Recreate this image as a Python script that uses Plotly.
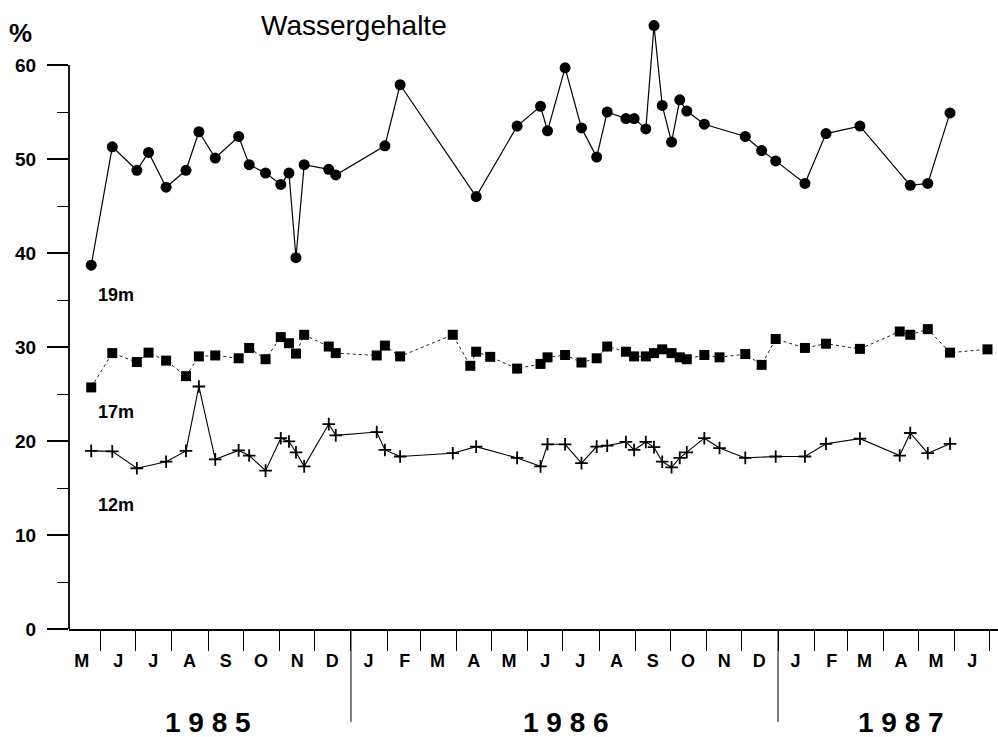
import pandas as pd
import plotly.graph_objects as go

# ---- data ----
dates = ["1985-05-24", "1985-06-11", "1985-07-02", "1985-07-12", "1985-07-27", "1985-08-13",
         "1985-08-24", "1985-09-07", "1985-09-27", "1985-10-06", "1985-10-20", "1985-11-02",
         "1985-11-09", "1985-11-15", "1985-11-22", "1985-12-13", "1985-12-19", "1986-01-23",
         "1986-01-30", "1986-02-12", "1986-03-29", "1986-04-13", "1986-04-18", "1986-04-30",
         "1986-05-23", "1986-06-12", "1986-06-18", "1986-07-03", "1986-07-17", "1986-07-30",
         "1986-08-08", "1986-08-24", "1986-08-31", "1986-09-10", "1986-09-17", "1986-09-24",
         "1986-10-02", "1986-10-09", "1986-10-15", "1986-10-30", "1986-11-12", "1986-12-04",
         "1986-12-18", "1986-12-30", "1987-01-24", "1987-02-11", "1987-03-12", "1987-04-15",
         "1987-04-24", "1987-05-09", "1987-05-28", "1987-06-29"]

wasser_19m = [38.7, 51.3, 48.8, 50.7, 47.0, 48.8, 52.9, 50.1, 52.4, 49.4,
              48.5, 47.3, 48.5, 39.5, 49.4, 48.9, 48.3, None, 51.4, 57.9,
              None, None, 46.0, None, 53.5, 55.6, 53.0, 59.7, 53.3, 50.2,
              55.0, 54.3, 54.3, 53.2, 64.2, 55.7, 51.8, 56.3, 55.1, 53.7,
              None, 52.4, 50.9, 49.8, 47.4, 52.7, 53.5, None, 47.2, 47.4,
              54.9, None]

wasser_17m = [25.7, 29.35, 28.4, 29.4, 28.55, 26.9, 29.0, 29.1, 28.8, 29.9,
              28.7, 31.05, 30.4, 29.3, 31.3, 30.05, 29.35, 29.1, 30.15, 29.0,
              31.3, 28.0, 29.5, 28.95, 27.7, 28.2, 28.9, 29.15, 28.35, 28.8,
              30.05, 29.5, 29.0, 29.0, 29.35, 29.75, 29.35, 28.9, 28.7, 29.15,
              28.9, 29.25, 28.1, 30.85, 29.9, 30.35, 29.8, 31.65, 31.3, 31.9,
              29.4, 29.75]

wasser_12m = [18.95, 18.9, 17.1, None, 17.8, 18.95, 25.8, 18.05, 19.0, 18.45,
              16.85, 20.3, 19.95, 18.8, 17.3, 21.8, 20.6, 20.95, 19.05, 18.35,
              18.7, None, 19.4, None, 18.2, 17.3, 19.65, 19.65, 17.65, 19.4,
              19.5, 19.9, 19.05, 19.9, 19.35, 17.8, 17.2, 18.2, 18.8, 20.3,
              19.25, 18.2, None, 18.35, 18.35, 19.7, 20.25, 18.45, 20.85, 18.7,
              19.7, None]

month_letters = ["M", "J", "J", "A", "S", "O", "N", "D",
                 "J", "F", "M", "A", "M", "J", "J", "A", "S", "O", "N", "D",
                 "J", "F", "M", "A", "M", "J"]
years = ["1985", "1986", "1987"]
y_ticks = [0, 10, 20, 30, 40, 50, 60]
series_names = ["19m", "17m", "12m"]

# ---- derived axis helpers ----
month_starts = pd.date_range("1985-05-01", periods=len(month_letters), freq="MS")
month_mids = [d + pd.Timedelta(days=15) for d in month_starts]
month_bounds = pd.date_range("1985-06-01", "1987-07-01", freq="MS")
year_bounds = ["1986-01-01", "1987-01-01"]

FONT = "Liberation Sans, Arial, Helvetica, sans-serif"

fig = go.Figure()

fig.add_trace(go.Scatter(
    x=dates, y=wasser_19m, mode="lines+markers", connectgaps=True,
    line=dict(color="black", width=1.2),
    marker=dict(symbol="circle", size=11, color="black"),
    name=series_names[0], showlegend=False))
fig.add_trace(go.Scatter(
    x=dates, y=wasser_17m, mode="lines+markers", connectgaps=True,
    line=dict(color="#222222", width=1, dash="dot"),
    marker=dict(symbol="square", size=10, color="black"),
    name=series_names[1], showlegend=False))
fig.add_trace(go.Scatter(
    x=dates, y=wasser_12m, mode="lines+markers", connectgaps=True,
    line=dict(color="black", width=1.1),
    marker=dict(symbol="cross-thin", size=9, line=dict(color="black", width=1.8)),
    name=series_names[2], showlegend=False))

fig.update_layout(
    width=998, height=737,
    margin=dict(l=69, r=0, t=18, b=108),
    paper_bgcolor="white", plot_bgcolor="white",
    font=dict(family=FONT, color="black"),
    xaxis=dict(
        type="date",
        range=["1985-05-05", "1987-07-08"],
        showgrid=False, zeroline=False,
        showline=True, linecolor="black", linewidth=1.5,
        tickmode="array", tickvals=month_mids, ticktext=month_letters,
        ticks="", ticklabelstandoff=15,
        tickfont=dict(size=18, family=FONT, weight="bold"),
        minor=dict(tickmode="array", tickvals=list(month_bounds), ticks="outside",
                   ticklen=20, tickwidth=1.2, tickcolor="black", showgrid=False),
    ),
    yaxis=dict(
        range=[0, 65],
        showgrid=False, zeroline=False, showline=False,
        tickmode="array", tickvals=y_ticks, ticktext=[str(v) for v in y_ticks],
        ticks="outside", ticklen=21, tickwidth=1.5, tickcolor="black",
        ticklabelstandoff=7,
        tickfont=dict(size=19, family=FONT, weight="bold"),
        minor=dict(tickmode="array", tickvals=[5, 15, 25, 35, 45, 55], ticks="outside",
                   ticklen=11, tickwidth=1.2, tickcolor="black", showgrid=False),
    ),
)

# y axis line only from 0 to 60
fig.add_shape(type="line", xref="paper", yref="y", x0=0, x1=0, y0=0, y1=max(y_ticks),
              line=dict(color="black", width=1.8))

# year separators
for yb in year_bounds:
    fig.add_shape(type="line", xref="x", yref="paper", x0=yb, x1=yb, y0=0, y1=-0.152,
                  line=dict(color="black", width=1))

# year labels
year_pos = ["1985-09-01", "1986-07-04", "1987-04-16"]
for yr, pos in zip(years, year_pos):
    fig.add_annotation(x=pos, y=-0.153, xref="x", yref="paper", text=" ".join(yr),
                       showarrow=False, xanchor="center", yanchor="middle",
                       font=dict(size=28, family=FONT, weight="bold"))

# title & unit
fig.add_annotation(x=0.3068, y=0.987, xref="paper", yref="paper", text="Wassergehalte",
                   showarrow=False, xanchor="center", yanchor="middle",
                   font=dict(size=28, family=FONT))
fig.add_annotation(x=-0.052, y=0.976, xref="paper", yref="paper", text="%",
                   showarrow=False, xanchor="center", yanchor="middle",
                   font=dict(size=26, family=FONT, weight="bold"))

# series labels
for name, yv in zip(series_names, [35.5, 23.1, 13.2]):
    fig.add_annotation(x=0.029, y=yv, xref="paper", yref="y", text=name,
                       showarrow=False, xanchor="left", yanchor="middle",
                       font=dict(size=18, family=FONT, weight="bold"))

fig.write_html("out.html")
